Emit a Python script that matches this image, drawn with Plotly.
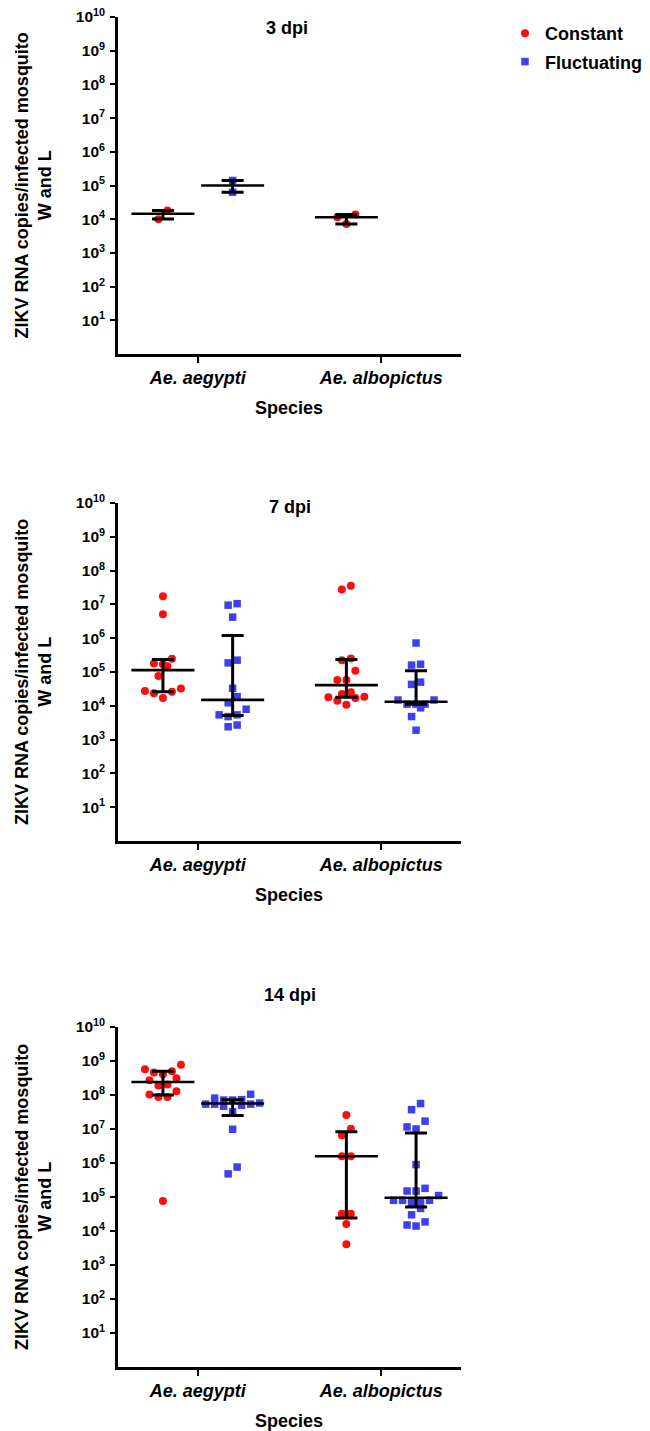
import numpy as np
import plotly.graph_objects as go

# ---------------- data ----------------
species = ["Ae. aegypti", "Ae. albopictus"]
series_names = ["Constant", "Fluctuating"]
panel_titles = ["3 dpi", "7 dpi", "14 dpi"]
y_tick_exponents = [1, 2, 3, 4, 5, 6, 7, 8, 9, 10]
y_title = "ZIKV RNA copies/infected mosquito<br>W and L"
x_title = "Species"

# 3 dpi
dpi3_aegypti_constant = [1.8e4, 1.0e4]
dpi3_aegypti_fluctuating = [1.41e5, 6.3e4]
dpi3_albopictus_constant = [1.37e4, 1.14e4, 7.2e3]
dpi3_albopictus_fluctuating = []
# median / lower / upper  (order: aeg-const, aeg-fluct, alb-const, alb-fluct)
dpi3_median = [1.45e4, 1.0e5, 1.14e4, None]
dpi3_lower = [1.02e4, 6.3e4, 7.2e3, None]
dpi3_upper = [1.8e4, 1.41e5, 1.37e4, None]

# 7 dpi
dpi7_aegypti_constant = [1.74e7, 5.1e6, 2.45e5, 1.48e5, 1.78e5, 1.7e5, 7.6e4,
                         3.27e4, 2.6e4, 1.7e4, 2.34e4, 2.75e4]
dpi7_aegypti_fluctuating = [9.5e6, 1.05e7, 4.2e6, 1.86e5, 2.24e5, 3.3e4, 1.86e4,
                            1.23e4, 7.9e3, 5.4e3, 4.8e3, 5.4e3, 2.4e3, 2.7e3]
dpi7_albopictus_constant = [2.75e7, 3.55e7, 2.5e5, 2.24e5, 1.08e5, 5.75e4, 5.75e4,
                            2.5e4, 2.24e4, 1.86e4, 1.7e4, 1.78e4, 1.41e4, 1.07e4]
dpi7_albopictus_fluctuating = [7.2e5, 1.6e5, 1.7e5, 5.0e4, 4.3e4, 1.48e4, 1.48e4,
                               1.12e4, 1.12e4, 1.12e4, 8.7e3, 4.8e3, 1.9e3]
dpi7_median = [1.14e5, 1.5e4, 4.1e4, 1.32e4]
dpi7_lower = [2.6e4, 5.2e3, 1.8e4, 1.12e4]
dpi7_upper = [2.35e5, 1.2e6, 2.35e5, 1.08e5]

# 14 dpi
dpi14_aegypti_constant = [7.8e8, 5.7e8, 4.6e8, 5.0e8, 4.1e8, 3.1e8, 2.7e8, 1.9e8,
                          2.05e8, 1.3e8, 1.03e8, 8.7e7, 8.7e7, 7.6e4]
dpi14_aegypti_fluctuating = [1.05e8, 8.1e7, 7.1e7, 7.1e7, 7.3e7, 5.4e7, 4.7e7, 5.0e7,
                             5.4e7, 5.4e7, 5.8e7, 3.2e7, 9.8e6, 7.6e5, 4.8e5]
dpi14_albopictus_constant = [2.6e7, 1.02e7, 6.5e6, 1.58e6, 1.58e6, 3.2e4, 3.2e4,
                             1.6e4, 4.1e3]
dpi14_albopictus_fluctuating = [5.6e7, 3.7e7, 1.7e7, 1.15e7, 1.0e7, 9.0e5, 1.8e5,
                                1.5e5, 1.5e5, 1.1e5, 8e4, 8e4, 8e4, 7e4, 7e4, 4.6e4,
                                3e4, 1.85e4, 1.4e4, 1.5e4]
dpi14_median = [2.4e8, 5.6e7, 1.58e6, 9.5e4]
dpi14_lower = [1.0e8, 2.5e7, 2.4e4, 5.1e4]
dpi14_upper = [5.0e8, 7.2e7, 8.3e6, 7.6e6]

# ---------------- styling / layout constants ----------------
W, H = 650, 1431
RED = "#ff0d0d"
BLUE = "#3f3ff2"
FONT = "Liberation Sans, Arial, sans-serif"
X_LEFT, X_RIGHT = 118, 461
X_RANGE = [-0.435, 1.435]
PX_PER_UNIT = (X_RIGHT - X_LEFT) / (X_RANGE[1] - X_RANGE[0])
GROUP_OFFSET = 0.19
panel_px = [(17, 354), (503, 841), (1027, 1367)]  # (top, bottom) in px
PX_PER_DECADE = [(b - t) / 10.0 for t, b in panel_px]

panels = [
    dict(groups=[dpi3_aegypti_constant, dpi3_aegypti_fluctuating,
                 dpi3_albopictus_constant, dpi3_albopictus_fluctuating],
         med=dpi3_median, lo=dpi3_lower, hi=dpi3_upper),
    dict(groups=[dpi7_aegypti_constant, dpi7_aegypti_fluctuating,
                 dpi7_albopictus_constant, dpi7_albopictus_fluctuating],
         med=dpi7_median, lo=dpi7_lower, hi=dpi7_upper),
    dict(groups=[dpi14_aegypti_constant, dpi14_aegypti_fluctuating,
                 dpi14_albopictus_constant, dpi14_albopictus_fluctuating],
         med=dpi14_median, lo=dpi14_lower, hi=dpi14_upper),
]


def swarm_offsets(values, px_per_decade, d_px=9.0, h_px=10.0):
    """Deterministic row-based scatter-dot layout (like Prism)."""
    if len(values) == 0:
        return np.array([])
    logs = np.log10(np.asarray(values, dtype=float))
    order = np.argsort(logs, kind="stable")
    rows, cur = [], []
    for i in order:
        if cur and (logs[i] - logs[cur[0]]) * px_per_decade > h_px:
            rows.append(cur)
            cur = []
        cur.append(i)
    if cur:
        rows.append(cur)
    offs = np.zeros(len(values))
    for row in rows:
        n = len(row)
        slots = [k - (n - 1) / 2.0 for k in range(n)]
        slots.sort(key=lambda s: (abs(s), s))
        for idx, s in zip(row, slots):
            offs[idx] = s * d_px / PX_PER_UNIT
    return offs


fig = go.Figure()

for p, panel in enumerate(panels):
    xa = "x" if p == 0 else f"x{p + 1}"
    ya = "y" if p == 0 else f"y{p + 1}"
    centers = []
    for si in range(2):
        for ti in range(2):
            centers.append(si + (-GROUP_OFFSET if ti == 0 else GROUP_OFFSET))
    # points per series
    for ti, name in enumerate(series_names):
        xs, ys = [], []
        for si in range(2):
            g = si * 2 + ti
            vals = panel["groups"][g]
            offs = swarm_offsets(vals, PX_PER_DECADE[p])
            xs += list(centers[g] + offs)
            ys += list(vals)
        fig.add_trace(go.Scatter(
            x=xs, y=ys, mode="markers", name=name,
            legendgroup=name, showlegend=(p == 0),
            marker=dict(color=RED if ti == 0 else BLUE,
                        symbol="circle" if ti == 0 else "square",
                        size=8 if ti == 0 else 7.5,
                        line=dict(width=0)),
            xaxis=xa, yaxis=ya, hoverinfo="skip"))
    # median + interquartile bars
    mx, my, up, dn = [], [], [], []
    for g in range(4):
        if panel["med"][g] is None:
            continue
        mx.append(centers[g])
        my.append(panel["med"][g])
        up.append(panel["hi"][g] - panel["med"][g])
        dn.append(panel["med"][g] - panel["lo"][g])
    fig.add_trace(go.Scatter(
        x=mx, y=my, mode="markers", showlegend=False,
        marker=dict(symbol="line-ew", size=45, color="black",
                    line=dict(width=2.6, color="black")),
        error_y=dict(type="data", symmetric=False, array=up, arrayminus=dn,
                     width=11, thickness=3, color="black"),
        xaxis=xa, yaxis=ya, hoverinfo="skip"))

axis_common = dict(showline=True, linecolor="black", linewidth=2.6,
                   ticks="outside", tickcolor="black", tickwidth=2.4,
                   showgrid=False, zeroline=False, mirror=False,
                   automargin=False)

layout = dict(width=W, height=H, margin=dict(l=0, r=0, t=0, b=0, pad=0),
              autosize=False,
              paper_bgcolor="white", plot_bgcolor="white",
              font=dict(family=FONT, color="black"),
              legend=dict(x=505 / W, y=1 - 15 / H, xanchor="left", yanchor="top",
                          font=dict(size=18, family=FONT, weight="bold"),
                          tracegroupgap=2, itemwidth=30,
                          bgcolor="rgba(0,0,0,0)"))

annotations = []
for p in range(3):
    top, bot = panel_px[p]
    xk = "xaxis" if p == 0 else f"xaxis{p + 1}"
    yk = "yaxis" if p == 0 else f"yaxis{p + 1}"
    ya = "y" if p == 0 else f"y{p + 1}"
    xa = "x" if p == 0 else f"x{p + 1}"
    layout[xk] = dict(axis_common, domain=[X_LEFT / W, X_RIGHT / W], range=X_RANGE,
                      anchor=ya, tickvals=[0, 1],
                      ticktext=[f"<i>{s}</i>" for s in species],
                      ticklen=6, ticklabelstandoff=0,
                      tickfont=dict(size=18, family=FONT, weight="bold"))
    layout[yk] = dict(axis_common, type="log", domain=[1 - bot / H, 1 - top / H],
                      range=[0, 10], anchor=xa,
                      tickvals=[10.0 ** e for e in y_tick_exponents],
                      ticktext=[f"10<sup>{e}</sup>" for e in y_tick_exponents],
                      ticklen=5, ticklabelstandoff=2,
                      tickfont=dict(size=15.5, family=FONT, weight="bold"))
    # y title
    annotations.append(dict(text=y_title, textangle=-90, x=33 / W, y=1 - (top + bot) / 2 / H,
                            xref="paper", yref="paper", showarrow=False,
                            xanchor="center", yanchor="middle",
                            font=dict(size=18, family=FONT, weight="bold")))
    # x title
    annotations.append(dict(text=x_title, x=289 / W, y=1 - (bot + 54) / H,
                            xref="paper", yref="paper", showarrow=False,
                            xanchor="center", yanchor="middle",
                            font=dict(size=18, family=FONT, weight="bold")))
title_pos = [(287, 28), (290, 507), (290, 995)]
for p, t in enumerate(panel_titles):
    annotations.append(dict(text=t, x=title_pos[p][0] / W, y=1 - title_pos[p][1] / H,
                            xref="paper", yref="paper", showarrow=False,
                            xanchor="center", yanchor="middle",
                            font=dict(size=18, family=FONT, weight="bold")))
layout["annotations"] = annotations

fig.update_layout(**layout)
fig.write_html("out.html",
               config={"displayModeBar": False},
               post_script="document.body.style.margin='0px';"
                           "document.body.style.padding='0px';"
                           "document.documentElement.style.overflow='hidden';")
